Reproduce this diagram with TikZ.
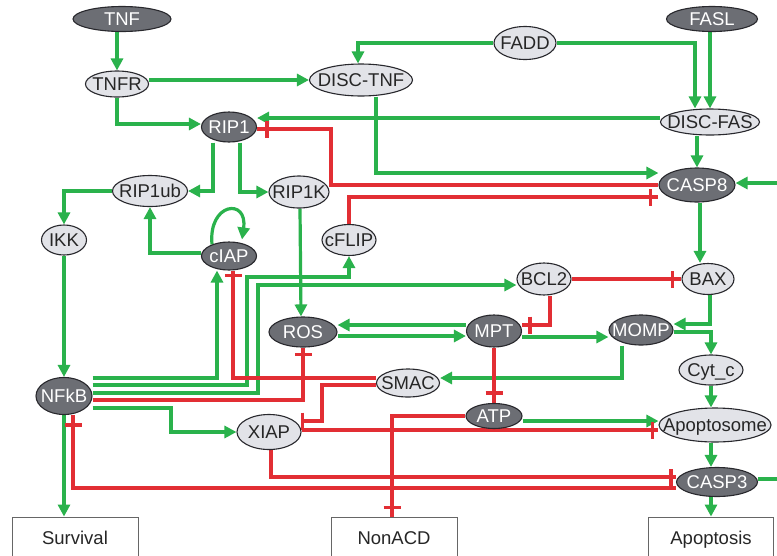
\documentclass[tikz,border=0pt]{standalone}
\usepackage{fontspec}
\setmainfont{Liberation Sans}
\usetikzlibrary{shapes.geometric,arrows.meta,calc,decorations.markings}
\definecolor{gr}{RGB}{42,178,76}
\definecolor{rd}{RGB}{226,46,52}
\definecolor{dkfill}{RGB}{108,110,116}
\definecolor{ltfill}{RGB}{226,227,232}
\definecolor{edgec}{RGB}{40,40,45}
\pgfdeclarelayer{bg}
\pgfsetlayers{bg,main}
\tikzset{
  nd/.style={ellipse, draw=edgec, line width=1.1pt, inner sep=0pt},
  lab/.style={inner sep=0pt, text height=13.2pt, text depth=0pt, font=\fontsize{18.5}{20}\selectfont},
  dklab/.style={lab, text=white},
  ltlab/.style={lab, text=black!85},
  dkn/.style n args={3}{nd, fill=dkfill, minimum width=#1pt, minimum height=#2pt, label={[dklab]center:#3}},
  ltn/.style n args={3}{nd, fill=ltfill, minimum width=#1pt, minimum height=#2pt, label={[ltlab]center:#3}},
  outbox/.style={rectangle, draw=black!60, line width=0.9pt, inner sep=0pt, minimum height=42pt, text height=13.2pt, text depth=0pt, text=black!85, font=\fontsize{18.5}{20}\selectfont},
  act/.style={draw=gr, line width=3.2pt, -{Triangle[length=12pt,width=12pt]}},
  inh/.style={draw=rd, line width=3.2pt, postaction={decorate, decoration={markings, mark=at position -#1 with {\draw[rd, line width=3.2pt] (0pt,-8.5pt) -- (0pt,8.5pt);}}}},
  inh/.default=9pt
}
\begin{document}
\begin{tikzpicture}[x=1pt,y=-1pt]
\useasboundingbox (0,0) rectangle (777,555);
% nodes
\node[dkn={98}{25}{TNF}] (tnf) at (122,19) {};
\node[dkn={91}{25}{FASL}] (fasl) at (712,19) {};
\node[ltn={62}{33}{FADD}] (fadd) at (525,43) {};
\node[ltn={63}{26}{TNFR}] (tnfr) at (117,84) {};
\node[ltn={103}{32}{DISC-TNF}] (disctnf) at (361,80) {};
\node[dkn={55}{30}{RIP1}] (rip1) at (229,127) {};
\node[ltn={99}{26}{DISC-FAS}] (discfas) at (710,122) {};
\node[dkn={76}{34}{CASP8}] (casp8) at (697,185) {};
\node[ltn={75}{31}{RIP1ub}] (rip1ub) at (150,191) {};
\node[ltn={60}{32}{RIP1K}] (rip1k) at (299,192) {};
\node[ltn={45}{30}{IKK}] (ikk) at (64,240) {};
\node[dkn={55}{28}{cIAP}] (ciap) at (229,256) {};
\node[ltn={54}{31}{cFLIP}] (cflip) at (349,240) {};
\node[ltn={54}{32}{BCL2}] (bcl2) at (544,279) {};
\node[ltn={52}{31}{BAX}] (bax) at (708,279) {};
\node[dkn={68}{30}{ROS}] (ros) at (303,332) {};
\node[dkn={55}{32}{MPT}] (mpt) at (494,331) {};
\node[dkn={64}{30}{MOMP}] (momp) at (641,330) {};
\node[ltn={64}{30}{Cyt\_c}] (cytc) at (711,370) {};
\node[ltn={63}{28}{SMAC}] (smac) at (408,383) {};
\node[dkn={56}{37}{NFkB}] (nfkb) at (64,396) {};
\node[dkn={56}{25}{ATP}] (atp) at (494,416) {};
\node[ltn={64}{35}{XIAP}] (xiap) at (269,432) {};
\node[ltn={112}{34}{Apoptosome}] (apoptosome) at (715,425) {};
\node[dkn={81}{29}{CASP3}] (casp3) at (717,482) {};
\node[outbox, minimum width=126pt] (survival) at (75,538) {Survival};
\node[outbox, minimum width=126pt] (nonacd) at (394,538) {NonACD};
\node[outbox, minimum width=125pt] (apoptosis) at (711,538) {Apoptosis};
\begin{pgfonlayer}{bg}
\fill[white] (0,0) rectangle (777,555);
% activations
\draw[act] (tnfr.north |- tnf.south) -- (tnfr.north);
\draw[act] ($(tnfr.east)+(0,-4)$) -- (disctnf.west);
\draw[act] (tnfr.south) |- ($(rip1.west)+(0,-3)$);
\draw[act] (fadd.west) -| ($(disctnf.north)+(-3,0)$);
\draw[act] (fadd.east) -| ($(discfas.north)+(-15,0)$);
\draw[act] (discfas.north |- fasl.south) -- (discfas.north);
\draw[act] ($(discfas.west)+(0,-4)$) -- ($(rip1.east)+(0,-9)$);
\draw[act] (casp8.north |- discfas.south) -- (casp8.north);
\draw[act] ($(disctnf.south)+(15,0)$) |- ($(casp8.west)+(0,-12)$);
\draw[act] ($(rip1.south)+(-16,0)$) |- (rip1ub.east);
\draw[act] ($(rip1.south)+(11,0)$) |- (rip1k.west);
\draw[act] (rip1ub.west) -| (ikk.north);
\draw[act] (ikk.south) -- (nfkb.north);
\draw[act] ($(ciap.west)+(0,-3)$) -| (rip1ub.south);
\draw[act] ($(ciap.north)+(-17,3)$) .. controls +(-4,-42) and +(6,-42) .. ($(ciap.north)+(13,-2)$);
\draw[act] ($(nfkb.east)+(0,-18)$) -| ($(ciap.south)+(-12,0)$);
\draw[act] ($(nfkb.east)+(0,-11)$) -| (247,277) -| (cflip.south);
\draw[act] ($(nfkb.east)+(0,-3)$) -| (258,300) |- ($(bcl2.west)+(0,6)$);
\draw[act] ($(nfkb.east)+(0,12)$) -| (171,420) |- (xiap.west);
\draw[act] (nfkb.south) -- (nfkb.south |- survival.north);
\draw[act] ($(atp.east)+(0,5)$) -- ($(apoptosome.west)+(0,-4)$);
\draw[act] ($(casp8.south)+(3,0)$) -- ($(bax.north)+(-8,0)$);
\draw[act] ($(casp3.east)+(0,-3)$) -- ++(40,0) |- ($(casp8.east)+(0,-2)$);
\draw[act] ($(bax.south)+(2,0)$) |- ($(momp.east)+(0,-6)$);
\draw[act] ($(momp.east)+(0,2)$) -| (cytc.north);
\draw[act] (cytc.south) -- (cytc.south |- apoptosome.north);
\draw[act] (cytc.south |- apoptosome.south) -- (cytc.south |- casp3.north);
\draw[act] (cytc.south |- casp3.south) -- (cytc.south |- apoptosis.north);
\draw[act] ($(mpt.east)+(0,6)$) -- ($(momp.west)+(0,7)$);
\draw[act] ($(momp.south)+(-19,0)$) |- ($(smac.east)+(0,-5)$);
\draw[act] ($(mpt.west)+(0,-6)$) -- ($(ros.east)+(0,-7)$);
\draw[act] ($(ros.east)+(0,4)$) -- ($(mpt.west)+(0,5)$);
\draw[act] ($(rip1k.south)+(1,0)$) -- ($(ros.north)+(-2,0)$);
% inhibitions
\draw[inh=10pt] (casp8.west) -| (331,150) |- ($(rip1.east)+(0,2)$);
\draw[inh=8pt] (cflip.north) |- ($(casp8.west)+(0,12)$);
\draw[inh=7pt] ($(nfkb.east)+(0,4)$) -| (ros.south);
\draw[inh=10pt] ($(casp3.west)+(0,6)$) -| ($(nfkb.south)+(9,0)$);
\draw[inh=5pt] ($(xiap.south)+(2,0)$) |- ($(casp3.west)+(0,-5)$);
\draw[inh=6pt] ($(xiap.east)+(0,-2)$) -- ($(apoptosome.west)+(0,5)$);
\draw[inh=1pt] ($(smac.west)+(0,2)$) -| (322,400) |- ($(xiap.east)+(0,-11)$);
\draw[inh=5pt] ($(smac.west)+(0,-5)$) -| ($(ciap.south)+(4,0)$);
\draw[inh=10pt] (mpt.south) -- (atp.north);
\draw[inh=9pt] (atp.west) -| ($(nonacd.north)+(-2,0)$);
\draw[inh=9pt, line width=3.8pt] (bcl2.east) -- (bax.west);
\draw[inh=8pt] ($(bcl2.south)+(6,0)$) |- ($(mpt.east)+(0,-6)$);
\end{pgfonlayer}
\end{tikzpicture}
\end{document}
